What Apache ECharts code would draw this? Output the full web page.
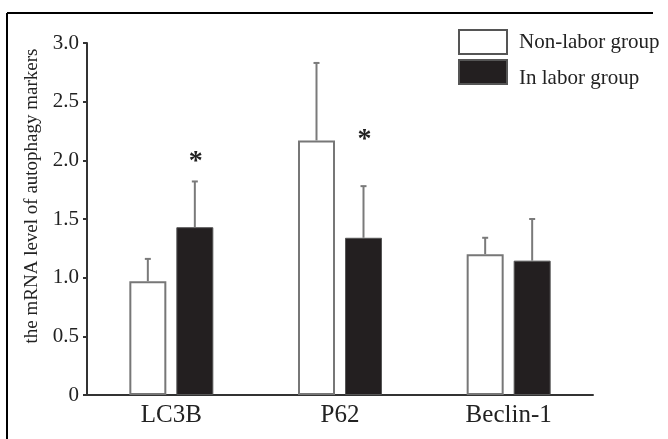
<!DOCTYPE html>
<html>
<head>
<meta charset="utf-8">
<script src="https://cdn.jsdelivr.net/npm/echarts@6/dist/echarts.min.js"></script>
<style>
  html, body { margin: 0; padding: 0; background: #fff; }
  #chart { width: 668px; height: 439px; }
</style>
</head>
<body>
<div id="chart"></div>
<script>
// 数据
var categories = ['LC3B', 'P62', 'Beclin-1'];
var nonLabor = [0.97, 2.17, 1.20];
var nonLaborErr = [0.19, 0.66, 0.14];
var inLabor = [1.43, 1.34, 1.145];
var inLaborErr = [0.39, 0.44, 0.355];
// 显著性标记 (星号所在的 y 值, null 为无)
var starValues = [2.03, 2.22, null];

var barWidth = 37;
var barGapPx = 10;
var offset = (barWidth + barGapPx) / 2;

var font = '"Liberation Serif", "Times New Roman", serif';

function errorBarSeries(means, errs, dx) {
    return {
        type: 'custom',
        silent: true,
        z: 5,
        data: means.map(function (m, i) { return [i, m, m + errs[i]]; }),
        renderItem: function (params, api) {
            var lo = api.coord([api.value(0), api.value(1)]);
            var hi = api.coord([api.value(0), api.value(2)]);
            var x = lo[0] + dx;
            var style = { stroke: '#7a7a7a', lineWidth: 2 };
            return {
                type: 'group',
                children: [
                    { type: 'line', shape: { x1: x, y1: lo[1], x2: x, y2: hi[1] }, style: style },
                    { type: 'line', shape: { x1: x - 3, y1: hi[1], x2: x + 3, y2: hi[1] }, style: style }
                ]
            };
        }
    };
}

var myChart = echarts.init(document.getElementById('chart'));

var option = {
    animation: false,
    backgroundColor: '#fff',
    grid: { left: 87, right: 75, top: 43, bottom: 44 },
    legend: {
        orient: 'vertical',
        left: 458,
        top: 29,
        padding: 0,
        icon: 'rect',
        itemWidth: 48,
        itemHeight: 24,
        itemGap: 4,
        selectedMode: false,
        formatter: function (name) {
            // 第二项文字略低于图例方块
            return name === 'In labor group' ? '{low|' + name + '}' : name;
        },
        textStyle: {
            fontFamily: font, fontSize: 21, color: '#222', padding: [0, 0, 0, 7],
            rich: { low: { fontFamily: font, fontSize: 21, color: '#222', padding: [12, 0, 0, 0] } }
        },
        data: [
            { name: 'Non-labor group', itemStyle: { color: '#fff', borderColor: '#555', borderWidth: 2 } },
            { name: 'In labor group', itemStyle: { color: '#231f20' } }
        ]
    },
    xAxis: {
        type: 'category',
        data: categories,
        axisLine: { lineStyle: { color: '#333', width: 2 } },
        axisTick: { show: false },
        axisLabel: { fontFamily: font, fontSize: 25, color: '#222', margin: 8 }
    },
    yAxis: {
        type: 'value',
        min: 0,
        max: 3,
        interval: 0.5,
        name: 'the mRNA level of autophagy markers',
        nameLocation: 'middle',
        nameGap: 36,
        nameTextStyle: { fontFamily: font, fontSize: 19, color: '#222', padding: [0, 0, 0, 46] },
        splitLine: { show: false },
        axisLine: { show: true, lineStyle: { color: '#333', width: 2 } },
        axisTick: { show: true, length: 4, inside: false, lineStyle: { color: '#333', width: 2 } },
        axisLabel: {
            fontFamily: font, fontSize: 21, color: '#222', margin: 8,
            formatter: function (v) { return v === 0 ? '0' : v.toFixed(1); }
        }
    },
    series: [
        {
            name: 'Non-labor group',
            type: 'bar',
            barWidth: barWidth,
            barGap: (barGapPx / barWidth * 100) + '%',
            itemStyle: { color: '#fff', borderColor: '#777', borderWidth: 2 },
            data: nonLabor
        },
        {
            name: 'In labor group',
            type: 'bar',
            barWidth: barWidth,
            itemStyle: { color: '#231f20', borderColor: '#555', borderWidth: 1 },
            data: inLabor
        },
        errorBarSeries(nonLabor, nonLaborErr, -offset),
        errorBarSeries(inLabor, inLaborErr, offset),
        {
            type: 'custom',
            silent: true,
            data: starValues.map(function (v, i) { return v == null ? null : [i, v]; }).filter(function (d) { return d; }),
            renderItem: function (params, api) {
                var p = api.coord([api.value(0), api.value(1)]);
                return {
                    type: 'text',
                    style: {
                        x: p[0] + offset + 1, y: p[1] + 5,
                        text: '*', fontFamily: font, fontSize: 28, fontWeight: 'bold',
                        fill: '#222', align: 'center', verticalAlign: 'middle'
                    }
                };
            }
        }
    ],
    graphic: [
        { type: 'line', shape: { x1: 7, y1: 13, x2: 653, y2: 13 }, style: { stroke: '#000', lineWidth: 2 } },
        { type: 'line', shape: { x1: 7, y1: 13, x2: 7, y2: 439 }, style: { stroke: '#000', lineWidth: 2 } }
    ]
};

myChart.setOption(option);
</script>
</body>
</html>
